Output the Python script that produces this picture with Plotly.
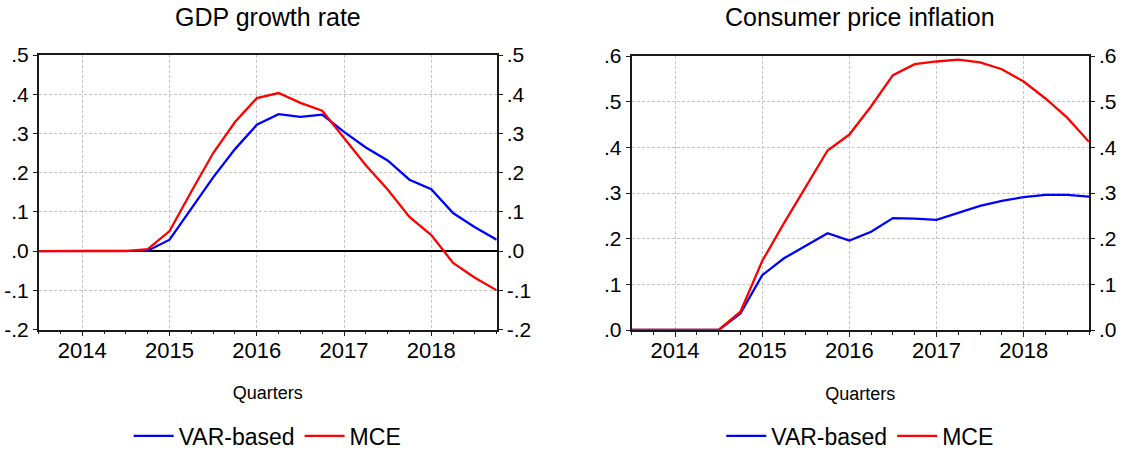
import plotly.graph_objects as go

# Quarterly horizon, 2013Q3 .. 2018Q4
quarters = [
    "2013Q3", "2013Q4",
    "2014Q1", "2014Q2", "2014Q3", "2014Q4",
    "2015Q1", "2015Q2", "2015Q3", "2015Q4",
    "2016Q1", "2016Q2", "2016Q3", "2016Q4",
    "2017Q1", "2017Q2", "2017Q3", "2017Q4",
    "2018Q1", "2018Q2", "2018Q3", "2018Q4",
]

# GDP growth rate responses
gdp_var = [0.0, 0.0, 0.0, 0.0, 0.0, 0.001, 0.029, 0.110, 0.188, 0.260, 0.322,
           0.349, 0.342, 0.348, 0.304, 0.264, 0.231, 0.182, 0.158, 0.097, 0.061, 0.029]
gdp_mce = [0.0, 0.0, 0.0, 0.0, 0.0, 0.005, 0.051, 0.152, 0.250, 0.329, 0.390,
           0.403, 0.378, 0.358, 0.288, 0.219, 0.157, 0.087, 0.041, -0.030, -0.068, -0.100]

# Consumer price inflation responses
cpi_var = [0.0, 0.0, 0.0, 0.0, 0.0, 0.036, 0.120, 0.157, 0.184, 0.212, 0.196,
           0.215, 0.245, 0.244, 0.241, 0.257, 0.272, 0.283, 0.291, 0.296, 0.296, 0.292]
cpi_mce = [0.0, 0.0, 0.0, 0.0, 0.0, 0.040, 0.151, 0.234, 0.314, 0.393, 0.428,
           0.490, 0.558, 0.582, 0.588, 0.592, 0.586, 0.571, 0.544, 0.507, 0.465, 0.412]

year_ticks = [2014, 2015, 2016, 2017, 2018]
year_labels = ["2014", "2015", "2016", "2017", "2018"]

gdp_ticks = [-0.2, -0.1, 0.0, 0.1, 0.2, 0.3, 0.4, 0.5]
gdp_labels = ["-.2", "-.1", ".0", ".1", ".2", ".3", ".4", ".5"]
cpi_ticks = [0.0, 0.1, 0.2, 0.3, 0.4, 0.5, 0.6]
cpi_labels = [".0", ".1", ".2", ".3", ".4", ".5", ".6"]

series_names = ["VAR-based", "MCE"]
series_colors = ["#0000FF", "#FF0000"]


def quarter_pos(q):
    year, qq = q.split("Q")
    return int(year) + (int(qq) - 1) / 4.0


x = [quarter_pos(q) for q in quarters]

FONT = "Liberation Sans, Arial, Helvetica, sans-serif"
W, H = 1121, 451

fig = go.Figure()

for vals, name, color in zip([gdp_var, gdp_mce], series_names, series_colors):
    fig.add_trace(go.Scatter(x=x, y=vals, mode="lines", name=name,
                             line=dict(color=color, width=2.3),
                             xaxis="x", yaxis="y", legend="legend"))
for vals, name, color in zip([cpi_var, cpi_mce], series_names, series_colors):
    fig.add_trace(go.Scatter(x=x, y=vals, mode="lines", name=name,
                             line=dict(color=color, width=2.3),
                             xaxis="x2", yaxis="y2", legend="legend2"))

# empty traces so the mirrored right-hand value axes get drawn
for ya, xa in [("y3", "x"), ("y4", "x2")]:
    fig.add_trace(go.Scatter(x=[], y=[], mode="lines", showlegend=False,
                             hoverinfo="skip", xaxis=xa, yaxis=ya))

# panel boxes in pixels
left_px = (38.7, 496.7)
right_px = (631.5, 1089.0)
gdp_py = (55.0, 329.5)
cpi_py = (56.0, 330.0)


def xd(px):
    return [px[0] / W, px[1] / W]


def yd(py):
    return [(H - py[1]) / H, (H - py[0]) / H]


axis_line = dict(showline=True, linecolor="#1a1a1a", linewidth=1.6)
grid = dict(showgrid=True, gridcolor="#c4c4c4", gridwidth=1, griddash="3px,2px")


def xaxis_cfg(domain, anchor):
    return dict(
        domain=domain, anchor=anchor, range=[x[0], x[-1]], automargin=False,
        tickmode="array", tickvals=year_ticks, ticktext=year_labels,
        ticks="outside", ticklen=5, tickcolor="#1a1a1a", tickwidth=1.3,
        minor=dict(dtick=0.25, tick0=2014, ticks="outside", ticklen=3,
                   tickcolor="#1a1a1a", tickwidth=1.3, showgrid=False),
        tickfont=dict(family=FONT, size=22, color="#000000"),
        ticklabelstandoff=-5,
        mirror=True, zeroline=False,
        title=dict(text="Quarters", font=dict(family=FONT, size=18, color="#000000"),
                   standoff=25),
        **axis_line, **grid,
    )


def yaxis_cfg(domain, anchor, rng, tv, tt, zero):
    return dict(
        domain=domain, anchor=anchor, range=rng, automargin=False,
        tickmode="array", tickvals=tv, ticktext=tt,
        ticks="outside", ticklen=4, tickcolor="#1a1a1a", tickwidth=1.3,
        tickfont=dict(family=FONT, size=21, color="#000000"),
        mirror=True,
        zeroline=zero, zerolinecolor="#000000", zerolinewidth=2,
        **axis_line, **grid,
    )


def yaxis_right(over, anchor, rng, tv, tt):
    return dict(
        overlaying=over, anchor=anchor, side="right", range=rng, automargin=False,
        tickmode="array", tickvals=tv, ticktext=tt,
        ticks="outside", ticklen=4, tickcolor="#1a1a1a", tickwidth=1.3,
        tickfont=dict(family=FONT, size=21, color="#000000"),
        showgrid=False, zeroline=False, **axis_line,
    )


legend_common = dict(orientation="h", xanchor="center",
                     y=(H - 436) / H, yanchor="middle", itemwidth=40,
                     font=dict(family=FONT, size=23, color="#000000"),
                     bgcolor="rgba(0,0,0,0)")

fig.update_layout(
    width=W, height=H,
    margin=dict(l=0, r=0, t=0, b=0, autoexpand=False),
    paper_bgcolor="white", plot_bgcolor="white",
    font=dict(family=FONT, color="#000000"),
    xaxis=xaxis_cfg(xd(left_px), "y"),
    yaxis=yaxis_cfg(yd(gdp_py), "x", [-0.2, 0.5], gdp_ticks, gdp_labels, True),
    yaxis3=yaxis_right("y", "x", [-0.2, 0.5], gdp_ticks, gdp_labels),
    xaxis2=xaxis_cfg(xd(right_px), "y2"),
    yaxis2=yaxis_cfg(yd(cpi_py), "x2", [0.0, 0.6], cpi_ticks, cpi_labels, False),
    yaxis4=yaxis_right("y2", "x2", [0.0, 0.6], cpi_ticks, cpi_labels),
    legend=dict(x=sum(left_px) / 2 / W, **legend_common),
    legend2=dict(x=sum(right_px) / 2 / W, **legend_common),
    annotations=[
        dict(text="GDP growth rate", x=sum(left_px) / 2 / W, y=(H - 17) / H,
             xref="paper", yref="paper", xanchor="center", yanchor="middle",
             showarrow=False, font=dict(family=FONT, size=25, color="#000000")),
        dict(text="Consumer price inflation", x=sum(right_px) / 2 / W, y=(H - 17) / H,
             xref="paper", yref="paper", xanchor="center", yanchor="middle",
             showarrow=False, font=dict(family=FONT, size=25, color="#000000")),
    ],
)

fig.write_html("out.html")
